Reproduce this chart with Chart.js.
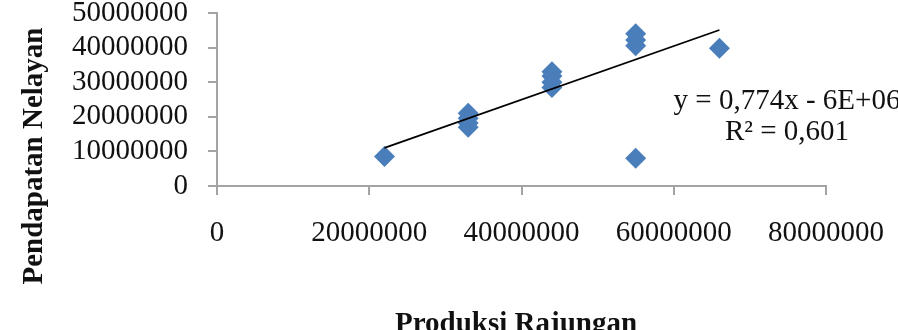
<!DOCTYPE html>
<html>
<head>
<meta charset="utf-8">
<script src="https://cdn.jsdelivr.net/npm/chart.js@4/dist/chart.umd.min.js"></script>
<style>
  html, body { margin: 0; padding: 0; background: #fff; }
  #wrap { width: 898px; height: 330px; position: relative; }
</style>
</head>
<body>
<div id="wrap"><canvas id="myScatter" width="898" height="330"></canvas></div>
<script>
// produksi rajungan (x) vs pendapatan nelayan (y)
const produksiX = [22000000, 33000000, 33000000, 33000000, 33000000,
                   44000000, 44000000, 44000000, 44000000,
                   55000000, 55000000, 55000000, 55000000, 66000000]
const pendapatanY = [8500000, 17000000, 18200000, 19600000, 21000000,
                     28500000, 30000000, 31800000, 33000000,
                     40500000, 42200000, 44000000, 8000000, 39800000]

// linear trendline endpoints (y = 0,774x - 6E+06)
const trendX = [22000000, 66000000]
const trendY = [11028000, 45084000]
const trendLabel = ['y = 0,774x - 6E+06', 'R\u00b2 = 0,601']

const xTicks = [0, 20000000, 40000000, 60000000, 80000000]
const yTicks = [0, 10000000, 20000000, 30000000, 40000000, 50000000]

const xTitle = 'Produksi Rajungan'
const yTitle = 'Pendapatan Nelayan'

const serif = "'Liberation Serif', 'Times New Roman', serif"
const axisGray = '#a3a3a3'

const points = produksiX.map((x, i) => ({x: x, y: pendapatanY[i]}))
const trend = trendX.map((x, i) => ({x: x, y: trendY[i]}))

const extraText = {
    id: 'extraText',
    afterDraw(chart) {
        const ctx = chart.ctx
        ctx.save()
        ctx.fillStyle = '#111'

        // equation + r squared
        ctx.font = '29px ' + serif
        ctx.textAlign = 'center'
        ctx.textBaseline = 'alphabetic'
        ctx.fillText(trendLabel[0], 787, 109)
        ctx.fillText(trendLabel[1], 787, 140)

        // axis titles
        ctx.font = 'bold 29px ' + serif
        ctx.fillText(xTitle, 516, 332)

        ctx.translate(42, 156)
        ctx.rotate(-Math.PI / 2)
        ctx.fillText(yTitle, 0, 0)
        ctx.restore()
    }
}

const ctx = document.getElementById('myScatter')
const myChart = new Chart(ctx, {
    type: 'scatter',
    data: {
        datasets: [
            {
                type: 'line',
                label: 'trend',
                data: trend,
                borderColor: '#000',
                borderWidth: 1.8,
                pointRadius: 0,
                fill: false,
                order: 0
            },
            {
                label: 'data',
                data: points,
                pointStyle: 'rectRot',
                pointRadius: 10.5,
                pointHoverRadius: 10.5,
                backgroundColor: '#4a7ebb',
                borderColor: '#4a7ebb',
                borderWidth: 0,
                order: 1
            }
        ]
    },
    options: {
        responsive: false,
        animation: false,
        devicePixelRatio: 1,
        layout: {
            padding: {top: 13, right: 72, left: 0, bottom: 0}
        },
        plugins: {
            legend: {display: false},
            tooltip: {enabled: false}
        },
        scales: {
            x: {
                type: 'linear',
                min: 0,
                max: 80000000,
                afterBuildTicks: (scale) => { scale.ticks = xTicks.map(v => ({value: v})) },
                afterFit: (scale) => {
                    scale.height = 144
                    scale.paddingLeft = 0
                    scale.paddingRight = 0
                },
                grid: {display: true, drawOnChartArea: false, drawTicks: true, tickLength: 9, color: axisGray, lineWidth: 2},
                border: {display: true, color: axisGray, width: 2},
                ticks: {
                    color: '#111',
                    padding: 21,
                    maxRotation: 0,
                    autoSkip: false,
                    font: {family: serif, size: 29},
                    callback: (v) => String(v)
                }
            },
            y: {
                type: 'linear',
                min: 0,
                max: 50000000,
                afterBuildTicks: (scale) => { scale.ticks = yTicks.map(v => ({value: v})) },
                afterFit: (scale) => {
                    scale.width = 217
                    scale.paddingTop = 0
                    scale.paddingBottom = 0
                },
                grid: {display: true, drawOnChartArea: false, drawTicks: true, tickLength: 9, color: axisGray, lineWidth: 2},
                border: {display: true, color: axisGray, width: 2},
                ticks: {
                    color: '#111',
                    padding: 20,
                    autoSkip: false,
                    font: {family: serif, size: 29},
                    callback: (v) => String(v)
                }
            }
        }
    },
    plugins: [extraText]
})
</script>
</body>
</html>
